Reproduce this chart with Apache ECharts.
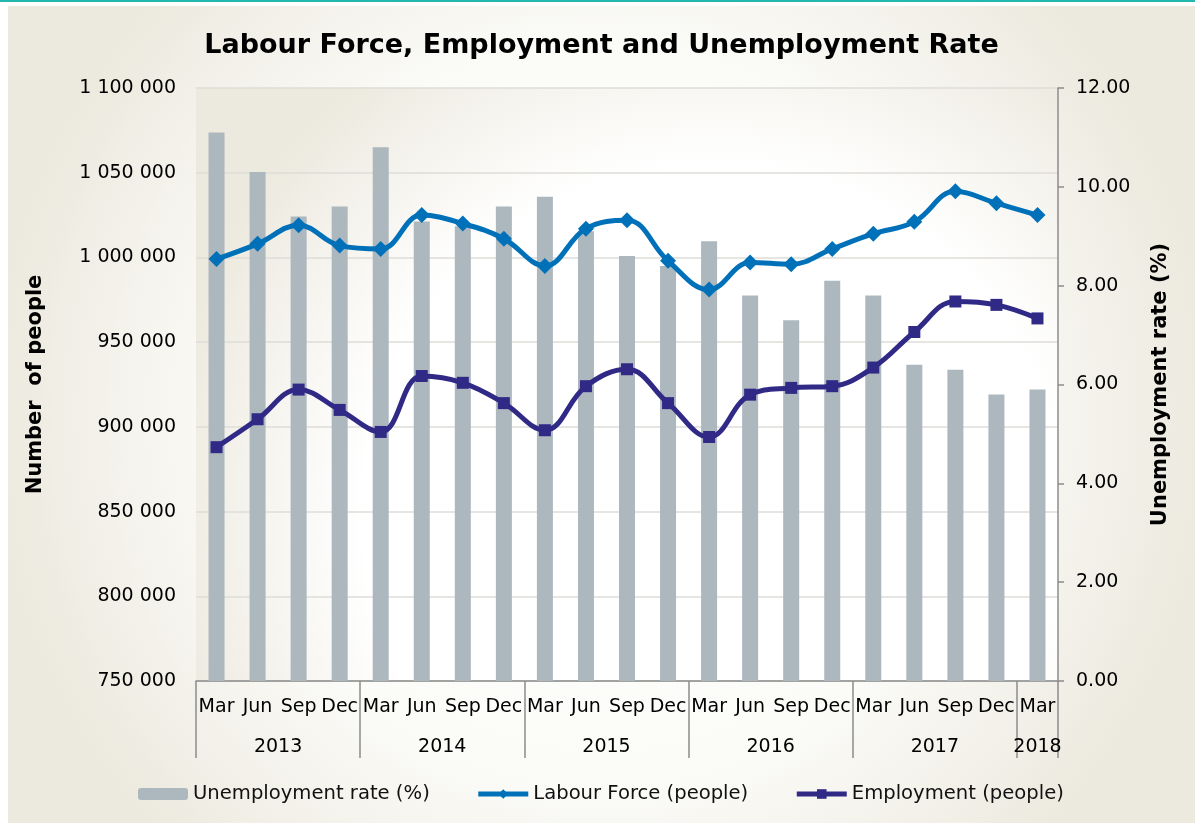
<!DOCTYPE html>
<html>
<head>
<meta charset="utf-8">
<title>Labour Force, Employment and Unemployment Rate</title>
<script src="https://cdn.jsdelivr.net/npm/echarts@6/dist/echarts.min.js"></script>
<style>
	html, body { margin: 0; padding: 0; background: #fff; }
	#topline { position: absolute; left: 0; top: 0; width: 1195px; height: 2px; background: #22b8b0; }
	#main { position: absolute; left: 8px; top: 6px; width: 1187px; height: 817px; }
</style>
</head>
<body>
<div id="topline"></div>
<div id="main"></div>
<script>
"use strict";

// quarters, Mar 2013 .. Mar 2018
var quarters = ['Mar', 'Jun', 'Sep', 'Dec', 'Mar', 'Jun', 'Sep', 'Dec', 'Mar', 'Jun', 'Sep', 'Dec',
	'Mar', 'Jun', 'Sep', 'Dec', 'Mar', 'Jun', 'Sep', 'Dec', 'Mar'];
var years = ['2013', '2014', '2015', '2016', '2017', '2018'];
var quartersPerYear = [4, 4, 4, 4, 4, 1];

var unemploymentRate = [11.1, 10.3, 9.4, 9.6, 10.8, 9.3, 9.2, 9.6, 9.8, 9.1, 8.6, 8.4,
	8.9, 7.8, 7.3, 8.1, 7.8, 6.4, 6.3, 5.8, 5.9];
var labourForce = [999000, 1008000, 1019000, 1007000, 1005000, 1025000, 1020000, 1011000, 995000, 1017000, 1022000, 998000,
	981000, 997000, 996000, 1005000, 1014000, 1021000, 1039000, 1032000, 1025000];
var employment = [888000, 904500, 922000, 910000, 897000, 930000, 926000, 914000, 898000, 924000, 934000, 914000,
	894000, 919000, 923000, 924000, 935000, 956000, 974000, 972000, 964000];

var leftTicks = {min: 750000, max: 1100000, interval: 50000};
var rightTicks = {min: 0, max: 12, interval: 2};

// year row: half-category slots, label in the middle of each year, separators at year bounds
var yearSlots = [], yearBounds = {};
(function () {
	var i, start = 0;
	for (i = 0; i <= quarters.length * 2; i++) {
		yearSlots.push('');
	}
	for (i = 0; i < years.length; i++) {
		yearBounds[start * 2] = true;
		yearSlots[start * 2 + quartersPerYear[i]] = years[i];
		start += quartersPerYear[i];
	}
	yearBounds[start * 2] = true;
})();

function spaced(v) {
	return String(v).replace(/\B(?=(\d{3})+(?!\d))/g, ' ');
}

var font = 'DejaVu Sans, Verdana, sans-serif';
var chart = echarts.init(document.getElementById('main'));

chart.setOption({
	backgroundColor: {
		type: 'radial', x: 0.5, y: 0.5, r: 0.75,
		colorStops: [{offset: 0, color: '#ffffff'}, {offset: 0.6, color: '#fbfbf8'}, {offset: 1, color: '#ece9de'}]
	},
	textStyle: {fontFamily: font, color: '#000'},
	animation: false,
	title: {
		text: 'Labour Force, Employment and Unemployment Rate',
		left: 'center',
		top: 21,
		textStyle: {fontFamily: font, fontSize: 27, fontWeight: 'bold', color: '#000'}
	},
	legend: {
		left: 125,
		top: 773,
		itemWidth: 50,
		itemHeight: 12,
		itemGap: 46,
		textStyle: {fontFamily: font, fontSize: 19.6, color: '#111'},
		data: [
			{name: 'Unemployment rate (%)'},
			{name: 'Labour Force (people)', lineStyle: {width: 5}},
			{name: 'Employment (people)', lineStyle: {width: 5}}
		]
	},
	grid: {
		left: 188,
		top: 82,
		right: 137,
		bottom: 142,
		show: true,
		borderWidth: 0,
		backgroundColor: {
			type: 'radial', x: 0.6, y: 0.72, r: 0.95,
			colorStops: [{offset: 0, color: '#ffffff'}, {offset: 0.62, color: '#ffffff'}, {offset: 1, color: '#ece9de'}]
		}
	},
	xAxis: [{
		type: 'category',
		data: quarters,
		position: 'bottom',
		axisLine: {lineStyle: {color: '#8c8c8c', width: 1.5}},
		axisTick: {show: false},
		axisLabel: {interval: 0, margin: 17, fontSize: 19, color: '#000', fontFamily: font}
	}, {
		type: 'category',
		data: yearSlots,
		position: 'bottom',
		boundaryGap: false,
		axisLine: {show: false},
		axisTick: {
			show: true,
			length: 77,
			interval: function (index) { return !!yearBounds[index]; },
			lineStyle: {color: '#8c8c8c', width: 1.5}
		},
		axisLabel: {interval: 0, margin: 57, fontSize: 19, color: '#000', fontFamily: font}
	}],
	yAxis: [{
		type: 'value',
		min: leftTicks.min,
		max: leftTicks.max,
		interval: leftTicks.interval,
		name: 'Number  of people',
		nameLocation: 'middle',
		nameGap: 150,
		nameTextStyle: {fontSize: 21, fontWeight: 'bold', color: '#000', fontFamily: font},
		axisLine: {show: false},
		axisTick: {show: false},
		splitLine: {lineStyle: {color: '#dedcd7', width: 1.5}},
		axisLabel: {fontSize: 19, margin: 20, color: '#000', fontFamily: font, formatter: spaced}
	}, {
		type: 'value',
		position: 'right',
		min: rightTicks.min,
		max: rightTicks.max,
		interval: rightTicks.interval,
		name: 'Unemployment rate (%)',
		nameLocation: 'middle',
		nameGap: 92,
		nameTextStyle: {fontSize: 21, fontWeight: 'bold', color: '#000', fontFamily: font},
		axisLine: {show: true, lineStyle: {color: '#8c8c8c', width: 1.5}},
		axisTick: {show: true, length: 6, lineStyle: {color: '#8c8c8c', width: 1.5}},
		splitLine: {show: false},
		axisLabel: {fontSize: 19, margin: 18, color: '#000', fontFamily: font,
			formatter: function (v) { return v.toFixed(2); }}
	}],
	series: [{
		name: 'Unemployment rate (%)',
		type: 'bar',
		xAxisIndex: 0,
		yAxisIndex: 1,
		barWidth: 16,
		itemStyle: {color: '#adb7be'},
		data: unemploymentRate
	}, {
		name: 'Labour Force (people)',
		type: 'line',
		xAxisIndex: 0,
		yAxisIndex: 0,
		smooth: 0.4,
		symbol: 'diamond',
		symbolSize: 16,
		lineStyle: {width: 5, color: '#0071b9'},
		itemStyle: {color: '#0071b9'},
		data: labourForce
	}, {
		name: 'Employment (people)',
		type: 'line',
		xAxisIndex: 0,
		yAxisIndex: 0,
		smooth: 0.4,
		symbol: 'rect',
		symbolSize: 12,
		lineStyle: {width: 5, color: '#302a86'},
		itemStyle: {color: '#302a86'},
		data: employment
	}]
});
</script>
</body>
</html>
